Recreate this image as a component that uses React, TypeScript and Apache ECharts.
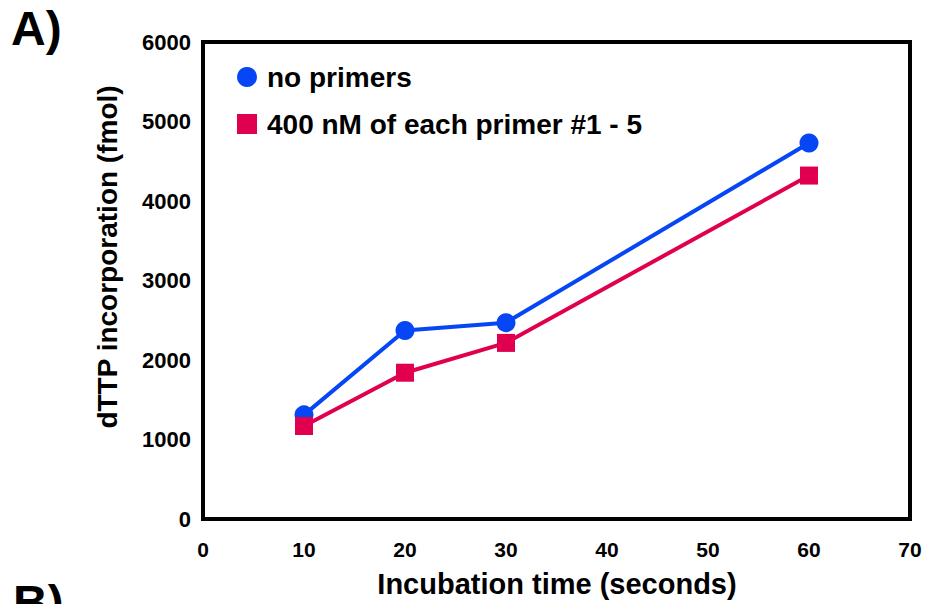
import React, { useEffect, useRef } from "react";
import * as echarts from "echarts";

const times = [10, 20, 30, 60];
const noPrimers = [1310, 2370, 2470, 4730];
const withPrimers = [1170, 1840, 2215, 4320];
const seriesNames = ["no primers", "400 nM of each primer #1 - 5"];
const xTitle = "Incubation time (seconds)";
const yTitle = "dTTP incorporation (fmol)";

const FONT = "'Liberation Sans', Arial, Helvetica, sans-serif";

export default function App() {
  const ref = useRef<HTMLDivElement>(null);
  useEffect(() => {
    if (!ref.current) return;
    const chart = echarts.init(ref.current, undefined, { renderer: "svg" });
    const blue = "#0646F5";
    const red = "#E0004F";
    chart.setOption({
      animation: false,
      backgroundColor: "#ffffff",
      textStyle: { fontFamily: FONT },
      grid: {
        left: 203,
        top: 42,
        right: 19,
        bottom: 85,
        show: true,
        borderColor: "#000",
        borderWidth: 4,
        backgroundColor: "transparent",
      },
      legend: {
        orient: "vertical",
        left: 232,
        top: 58,
        itemWidth: 20,
        itemHeight: 20,
        itemGap: 19,
        data: [
          { name: seriesNames[0], icon: "circle" },
          { name: seriesNames[1], icon: "rect" },
        ],
        textStyle: {
          fontFamily: FONT,
          fontWeight: "bold",
          fontSize: 28,
          color: "#000",
          padding: [0, 0, 0, 5],
        },
      },
      xAxis: {
        type: "value",
        min: 0,
        max: 70,
        interval: 10,
        axisLine: { show: false },
        axisTick: { show: false },
        splitLine: { show: false },
        axisLabel: {
          margin: 20,
          fontFamily: FONT,
          fontWeight: "bold",
          fontSize: 21,
          color: "#000",
        },
      },
      yAxis: {
        type: "value",
        min: 0,
        max: 6000,
        interval: 1000,
        axisLine: { show: false },
        axisTick: { show: false },
        splitLine: { show: false },
        axisLabel: {
          margin: 12,
          fontFamily: FONT,
          fontWeight: "bold",
          fontSize: 22,
          color: "#000",
          verticalAlign: "middle",
          formatter: (v: number) => String(v),
        },
      },
      graphic: [
        {
          type: "text",
          left: 11,
          top: 4,
          style: { text: "A)", font: `bold 48px ${FONT}`, fill: "#000" },
        },
        {
          type: "text",
          left: 13,
          top: 578,
          style: { text: "B)", font: `bold 48px ${FONT}`, fill: "#000" },
        },
        {
          type: "text",
          x: 557,
          y: 584,
          style: {
            text: xTitle,
            font: `bold 29px ${FONT}`,
            fill: "#000",
            align: "center",
            verticalAlign: "middle",
          },
        },
        {
          type: "text",
          x: 107,
          y: 257,
          rotation: Math.PI / 2,
          style: {
            text: yTitle,
            font: `bold 28px ${FONT}`,
            fill: "#000",
            align: "center",
            verticalAlign: "middle",
          },
        },
      ],
      series: [
        {
          name: seriesNames[0],
          type: "line",
          data: times.map((t, i) => [t, noPrimers[i]]),
          symbol: "circle",
          symbolSize: 19,
          itemStyle: { color: blue },
          lineStyle: { color: blue, width: 4 },
          z: 3,
        },
        {
          name: seriesNames[1],
          type: "line",
          data: times.map((t, i) => [t, withPrimers[i]]),
          symbol: "rect",
          symbolSize: 18,
          itemStyle: { color: red },
          lineStyle: { color: red, width: 4 },
          z: 4,
        },
      ],
    });
    return () => chart.dispose();
  }, []);
  return (
    <div
      ref={ref}
      style={{ position: "fixed", left: 0, top: 0, width: 929, height: 604 }}
    />
  );
}
